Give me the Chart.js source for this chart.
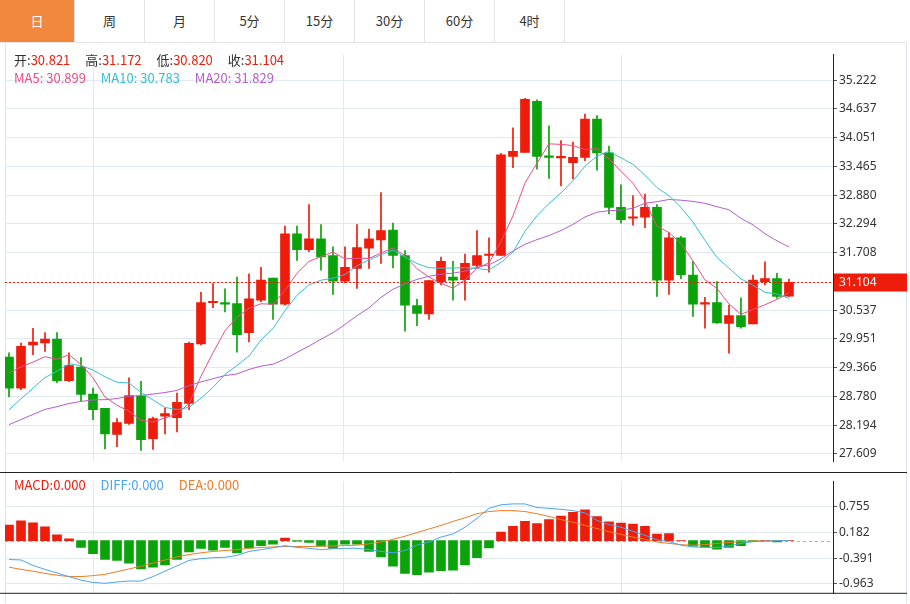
<!DOCTYPE html>
<html>
<head>
<meta charset="utf-8">
<script src="https://cdn.jsdelivr.net/npm/chart.js@4/dist/chart.umd.min.js"></script>
<style>
  body { margin: 0; background: #fff; font-family: "Noto Sans CJK SC", "Noto Sans", sans-serif; }
  #wrap { position: relative; width: 910px; height: 604px; overflow: hidden; }
  #tabs { position: absolute; left: 0; top: 0; height: 42px; width: 907px; border-bottom: 1px solid #e3e3e3; }
  .tab { position: absolute; top: 0; height: 42px; width: 70px; line-height: 42px; text-align: center;
         font-size: 13px; color: #333; border-right: 1px solid #e3e3e3; box-sizing: border-box; }
  .tab.on { background: #f2883e; color: #fff; }
  #frame { position: absolute; left: 5px; top: 43px; width: 900px; height: 560px; border-left: 1px solid #dde3ea; border-right: 1px solid #dde3ea; }
  canvas { position: absolute; left: 0; }
  .info { position: absolute; font-size: 13px; white-space: nowrap; }
  .info span { margin-right: 12px; }
  .k { color: #333; } .v { color: #ee1c0b; }
</style>
</head>
<body>
<div id="wrap">
  <div id="tabs"></div>
  <div id="frame"></div>
  <canvas id="main" style="top:45px" width="907" height="426"></canvas>
  <canvas id="macd" style="top:472px" width="907" height="131"></canvas>
  <div class="info" style="left:14px;top:50px">
    <span><b class="k" style="font-weight:normal">开:</b><b class="v" style="font-weight:normal">30.821</b></span>
    <span><b class="k" style="font-weight:normal">高:</b><b class="v" style="font-weight:normal">31.172</b></span>
    <span><b class="k" style="font-weight:normal">低:</b><b class="v" style="font-weight:normal">30.820</b></span>
    <span><b class="k" style="font-weight:normal">收:</b><b class="v" style="font-weight:normal">31.104</b></span>
  </div>
  <div class="info" style="left:14px;top:68px">
    <span style="color:#ea4d87">MA5: 30.899</span>
    <span style="color:#33bfd6">MA10: 30.783</span>
    <span style="color:#b45ecb">MA20: 31.829</span>
  </div>
  <div class="info" style="left:14px;top:475px">
    <span style="color:#ee1c0b">MACD:0.000</span>
    <span style="color:#4ca5ee">DIFF:0.000</span>
    <span style="color:#f07c24">DEA:0.000</span>
  </div>
</div>
<script>
var tabNames = ["日", "周", "月", "5分", "15分", "30分", "60分", "4时"];

var opens  = [29.58,28.95,29.83,29.87,29.95,29.10,29.38,28.83,28.54,28.01,28.23,28.79,27.92,28.38,28.35,28.64,29.85,30.69,30.69,30.67,
              30.08,30.74,31.19,30.66,32.09,31.77,31.99,31.65,31.13,31.39,31.80,31.97,32.17,31.65,30.63,30.46,31.12,31.21,31.16,31.45,
              31.65,31.65,33.67,33.75,34.79,33.68,33.64,33.54,33.65,34.43,33.74,32.63,32.41,32.43,32.63,31.15,32.01,31.25,30.66,30.69,
              30.27,30.43,30.26,31.12,31.18,30.821];
var highs  = [29.67,29.87,30.17,30.08,30.08,29.67,29.57,28.95,28.54,28.33,29.16,29.09,28.36,28.54,28.85,29.89,30.90,31.08,30.97,31.21,
              31.28,31.41,31.19,32.25,32.25,32.69,32.28,31.83,31.83,32.28,32.19,32.93,32.31,31.75,30.76,31.14,31.62,31.53,31.68,32.16,
              32.01,33.73,34.25,34.85,34.82,34.29,33.99,33.96,34.53,34.50,33.88,33.09,32.87,32.90,32.69,32.12,32.04,31.53,30.80,31.12,
              30.64,30.79,31.25,31.52,31.29,31.172];
var lows   = [28.77,28.92,29.63,29.70,29.06,29.08,28.69,28.31,27.71,27.76,28.21,27.68,27.70,28.02,28.06,28.51,29.83,30.59,30.50,29.68,
              29.89,30.71,30.35,30.64,31.55,31.73,31.35,30.86,31.10,30.98,31.39,31.49,31.40,30.11,30.22,30.35,31.05,30.74,30.74,31.42,
              31.31,31.65,33.44,33.75,33.41,33.22,33.07,33.21,33.58,33.39,32.50,32.31,32.27,32.22,30.82,30.86,31.18,30.41,30.17,30.27,
              29.66,30.17,30.26,31.05,30.78,30.820];
var closes = [28.95,29.80,29.89,29.95,29.10,29.41,28.82,28.51,28.02,28.25,28.80,27.90,28.33,28.43,28.66,29.86,30.69,30.71,30.67,30.04,
              30.77,31.15,30.66,32.09,31.77,31.99,31.62,31.13,31.41,31.81,31.99,32.16,31.65,30.64,30.47,31.14,31.53,31.15,31.49,31.65,
              31.68,33.70,33.77,34.83,33.67,33.65,33.65,33.65,34.43,33.74,32.63,32.38,32.43,32.63,31.15,32.01,31.26,30.66,30.69,30.28,
              30.43,30.20,31.15,31.18,30.82,31.104];
// closes before the first visible candle (only used for the moving averages)
var prevCloses = [27.7,27.8,27.9,28.0,28.1,28.0,27.9,27.9,27.8,27.9,27.6,27.7,27.8,27.8,27.9,29.2,29.4,29.4,29.36];

var macdBars = [0.35,0.44,0.40,0.31,0.13,0.04,-0.15,-0.29,-0.42,-0.44,-0.50,-0.63,-0.59,-0.54,-0.42,-0.25,-0.17,-0.21,-0.15,-0.27,
                -0.16,-0.11,-0.08,0.06,-0.01,-0.04,-0.12,-0.17,-0.08,-0.08,-0.24,-0.36,-0.57,-0.73,-0.76,-0.70,-0.67,-0.66,-0.54,-0.38,
                -0.16,0.19,0.32,0.43,0.38,0.47,0.55,0.63,0.69,0.54,0.42,0.39,0.37,0.32,0.15,0.16,0.0,-0.12,-0.14,-0.19,
                -0.15,-0.11,-0.02,0.01,-0.03,0.0];
var diff = [-0.42,-0.43,-0.55,-0.64,-0.72,-0.80,-0.88,-0.93,-0.95,-0.92,-0.90,-0.90,-0.80,-0.68,-0.56,-0.44,-0.40,-0.38,-0.37,-0.33,
            -0.24,-0.20,-0.16,-0.11,-0.15,-0.17,-0.20,-0.18,-0.17,-0.17,-0.20,-0.24,-0.27,-0.22,-0.10,-0.03,0.08,0.15,0.30,0.50,
            0.72,0.80,0.82,0.82,0.74,0.72,0.70,0.67,0.62,0.45,0.36,0.30,0.21,0.12,0.02,-0.02,-0.10,-0.14,-0.15,-0.15,
            -0.12,-0.06,-0.02,-0.01,0.0,0.0];
var dea = [-0.59,-0.64,-0.68,-0.73,-0.77,-0.80,-0.80,-0.78,-0.75,-0.69,-0.63,-0.57,-0.50,-0.43,-0.36,-0.31,-0.27,-0.24,-0.22,-0.20,
           -0.17,-0.15,-0.14,-0.13,-0.13,-0.13,-0.12,-0.12,-0.11,-0.10,-0.07,-0.03,0.03,0.10,0.18,0.26,0.34,0.43,0.51,0.60,
           0.65,0.67,0.67,0.65,0.60,0.54,0.47,0.41,0.34,0.27,0.20,0.14,0.08,0.03,-0.03,-0.06,-0.09,-0.10,-0.09,-0.06,
           -0.04,-0.02,-0.01,0,0,0];

var priceTicks = [35.222, 34.637, 34.051, 33.465, 32.880, 32.294, 31.708, 31.104, 30.537, 29.951, 29.366, 28.780, 28.194, 27.609];
var macdTicks = [0.755, 0.182, -0.391, -0.963];
var lastPrice = 31.104;
var vLines = [7, 27.83, 51];

var UP = "#ee1c0b", DOWN = "#0aa30a", GRID = "#e2eaf1";

var tabsDiv = document.getElementById("tabs");
tabNames.forEach(function (t, i) {
  var d = document.createElement("div");
  d.className = "tab" + (i == 0 ? " on" : "");
  d.style.left = (i == 0 ? 0 : 75 + (i - 1) * 70) + "px";
  if (i == 0) d.style.width = "75px";
  d.textContent = t;
  tabsDiv.appendChild(d);
});

var allCloses = prevCloses.concat(closes);
function ma(n) {
  var out = [];
  for (var i = 0; i < closes.length; i++) {
    var j = i + prevCloses.length, s = 0;
    for (var k = j - n + 1; k <= j; k++) s += allCloses[k];
    out.push({ x: i, y: s / n });
  }
  return out;
}

var colors = closes.map(function (c, i) { return c >= opens[i] ? UP : DOWN; });
var wicks = lows.map(function (l, i) { return { x: i, y: [l, highs[i]] }; });
var bodies = opens.map(function (o, i) {
  var c = closes[i];
  if (Math.abs(c - o) < 0.03) c = o + (c >= o ? 0.03 : -0.03);
  return { x: i, y: [o, c] };
});

var xMin = -0.333, xMax = 68.67;
Chart.defaults.font.family = "'Noto Sans', 'DejaVu Sans', sans-serif";
Chart.defaults.animation = false;

function xScale() {
  return { type: "linear", min: xMin, max: xMax, offset: false, bounds: "ticks", display: false, grid: { display: false } };
}
function yScale(min, max, ticks) {
  return {
    position: "right", min: min, max: max,
    afterBuildTicks: function (s) { s.ticks = ticks.map(function (v) { return { value: v }; }); },
    afterFit: function (s) { s.width = 74; },
    border: { color: "#222", width: 1 },
    grid: { color: GRID, tickColor: "#555", tickLength: 4, drawTicks: true },
    ticks: { color: "#333", font: { size: 12 }, padding: 2, callback: function (v) { return v.toFixed(3); } }
  };
}

var decor = {
  id: "decor",
  beforeDatasetsDraw: function (chart) {
    var ctx = chart.ctx, a = chart.chartArea, xs = chart.scales.x;
    ctx.save();
    ctx.strokeStyle = GRID; ctx.lineWidth = 1;
    vLines.forEach(function (v) {
      var x = Math.round(xs.getPixelForValue(v)) + 0.5;
      ctx.beginPath(); ctx.moveTo(x, a.top); ctx.lineTo(x, a.bottom); ctx.stroke();
    });
    ctx.restore();
  }
};

var priceLine = {
  id: "priceLine",
  afterDraw: function (chart) {
    var ctx = chart.ctx, a = chart.chartArea, y = Math.round(chart.scales.y.getPixelForValue(lastPrice)) + 0.5;
    ctx.save();
    ctx.strokeStyle = UP; ctx.setLineDash([2, 2]); ctx.lineWidth = 1;
    ctx.beginPath(); ctx.moveTo(a.left, y); ctx.lineTo(a.right, y); ctx.stroke();
    ctx.setLineDash([]);
    ctx.fillStyle = UP; ctx.fillRect(a.right + 1, y - 9, 73, 18);
    ctx.fillStyle = "#fff"; ctx.font = "12px 'Noto Sans'"; ctx.textBaseline = "middle";
    ctx.fillText(lastPrice.toFixed(3), a.right + 6, y);
    ctx.restore();
  }
};

new Chart(document.getElementById("main"), {
  type: "bar",
  data: {
    datasets: [
      { type: "line", data: ma(5), borderColor: "#ea4d87", borderWidth: 1, pointRadius: 0, order: 0 },
      { type: "line", data: ma(10), borderColor: "#33bfd6", borderWidth: 1, pointRadius: 0, order: 0 },
      { type: "line", data: ma(20), borderColor: "#b45ecb", borderWidth: 1, pointRadius: 0, order: 0 },
      { data: wicks, backgroundColor: colors, barThickness: 1, grouped: false, order: 2 },
      { data: bodies, backgroundColor: colors, barThickness: 9, grouped: false, order: 1 }
    ]
  },
  options: {
    responsive: false,
    layout: { padding: { left: 5, right: 0, top: 0, bottom: 0 } },
    plugins: { legend: { display: false }, tooltip: { enabled: false } },
    scales: { x: xScale(), y: yScale(27.45, 35.75, priceTicks) }
  },
  plugins: [decor, priceLine]
});

var zeroLine = {
  id: "zeroLine",
  beforeDatasetsDraw: function (chart) {
    var ctx = chart.ctx, a = chart.chartArea, y = Math.round(chart.scales.y.getPixelForValue(0)) + 0.5;
    ctx.save();
    ctx.strokeStyle = "#7fc4cf"; ctx.setLineDash([3, 3]); ctx.lineWidth = 1;
    ctx.beginPath(); ctx.moveTo(a.left, y); ctx.lineTo(a.right, y); ctx.stroke();
    ctx.setLineDash([]);
    ctx.strokeStyle = "#222";
    ctx.beginPath(); ctx.moveTo(a.left - 5, 0.5); ctx.lineTo(a.right + 74, 0.5); ctx.stroke();
    ctx.beginPath(); ctx.moveTo(a.left - 5, a.bottom - 0.5); ctx.lineTo(a.right + 74, a.bottom - 0.5); ctx.stroke();
    ctx.restore();
  }
};

new Chart(document.getElementById("macd"), {
  type: "bar",
  data: {
    datasets: [
      { type: "line", data: diff.map(function (v, i) { return { x: i, y: v }; }), borderColor: "#4ca5ee", borderWidth: 1, pointRadius: 0, order: 0 },
      { type: "line", data: dea.map(function (v, i) { return { x: i, y: v }; }), borderColor: "#f07c24", borderWidth: 1, pointRadius: 0, order: 0 },
      { data: macdBars.map(function (v, i) { return { x: i, y: v }; }), backgroundColor: macdBars.map(function (v) { return v >= 0 ? UP : DOWN; }), barThickness: 9, order: 1 }
    ]
  },
  options: {
    responsive: false,
    layout: { padding: { left: 5, right: 0, top: 0, bottom: 0 } },
    plugins: { legend: { display: false }, tooltip: { enabled: false } },
    scales: { x: xScale(), y: yScale(-1.184, 1.326, macdTicks) }
  },
  plugins: [decor, zeroLine]
});
</script>
</body>
</html>
